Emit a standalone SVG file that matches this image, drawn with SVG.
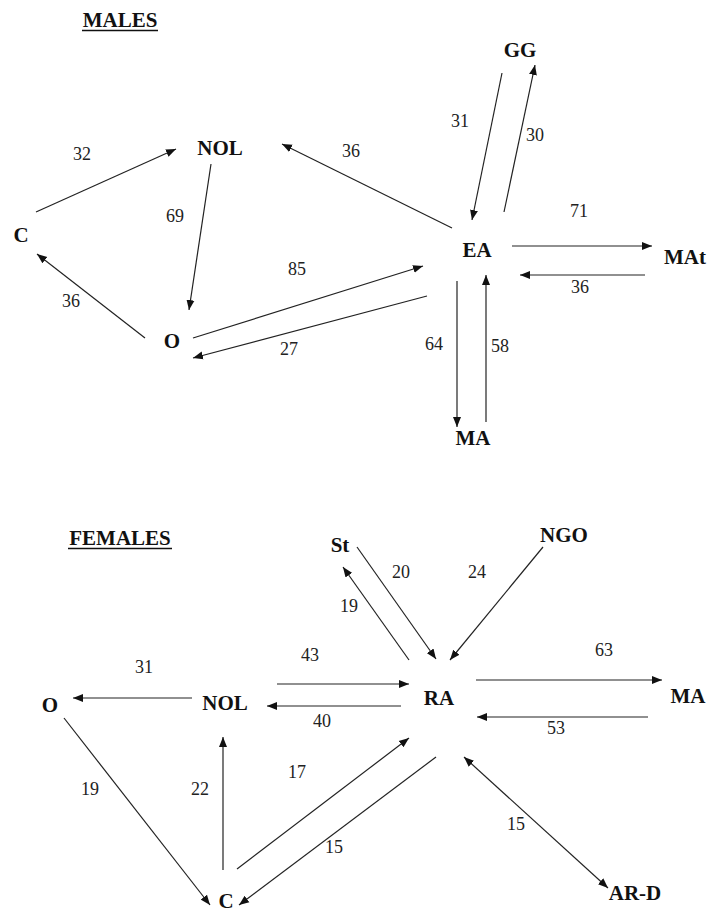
<svg xmlns="http://www.w3.org/2000/svg" width="707" height="912" viewBox="0 0 707 912">
<style>
.n{font-family:"Liberation Serif","Times New Roman",serif;font-weight:bold;font-size:21px;fill:#111;text-anchor:middle}
.h{font-family:"Liberation Serif","Times New Roman",serif;font-weight:bold;font-size:21px;fill:#111;text-anchor:middle}
.l{font-family:"Liberation Serif","Times New Roman",serif;font-size:18px;fill:#222;text-anchor:middle}
.e{stroke:#222;stroke-width:1.2;fill:none;marker-end:url(#a)}
.d{stroke:#222;stroke-width:1.2;fill:none;marker-end:url(#a);marker-start:url(#a)}
.u{stroke:#111;stroke-width:1.5}
</style>
<defs>
<marker id="a" markerUnits="userSpaceOnUse" markerWidth="11" markerHeight="9" refX="10" refY="4" orient="auto-start-reverse" viewBox="0 0 11 8">
<path d="M0,0 L10,4 L0,8 z" fill="#111"/>
</marker>
</defs>
<rect width="707" height="912" fill="#fff"/>
<g id="males-title"><text class="h" x="120" y="27">MALES</text><line class="u" x1="82" y1="30.5" x2="158" y2="30.5"/></g>
<g id="m-NOL"><text class="n" x="220" y="155">NOL</text></g>
<g id="m-C"><text class="n" x="21" y="242">C</text></g>
<g id="m-O"><text class="n" x="172" y="348">O</text></g>
<g id="m-EA"><text class="n" x="477" y="257">EA</text></g>
<g id="m-GG"><text class="n" x="520" y="57">GG</text></g>
<g id="m-MAt"><text class="n" x="685" y="264">MAt</text></g>
<g id="m-MA"><text class="n" x="473" y="445">MA</text></g>
<g id="males-connectors">
<line class="e" x1="36" y1="212" x2="176" y2="149"/>
<line class="e" x1="211" y1="164" x2="189" y2="310"/>
<line class="e" x1="145" y1="338" x2="37" y2="254"/>
<line class="e" x1="193" y1="338" x2="423" y2="266"/>
<line class="e" x1="427" y1="296" x2="193" y2="358"/>
<line class="e" x1="452" y1="228" x2="282" y2="144"/>
<line class="e" x1="502" y1="73" x2="472" y2="220"/>
<line class="e" x1="504" y1="212" x2="535" y2="65"/>
<line class="e" x1="512" y1="246" x2="652" y2="246"/>
<line class="e" x1="645" y1="275" x2="520" y2="275"/>
<line class="e" x1="457" y1="281" x2="457" y2="427"/>
<line class="e" x1="486" y1="422" x2="486" y2="275"/>
<text class="l" x="82" y="160">32</text>
<text class="l" x="175" y="222">69</text>
<text class="l" x="71" y="307">36</text>
<text class="l" x="297" y="275">85</text>
<text class="l" x="289" y="355">27</text>
<text class="l" x="351" y="157">36</text>
<text class="l" x="460" y="127">31</text>
<text class="l" x="535" y="141">30</text>
<text class="l" x="579" y="217">71</text>
<text class="l" x="580" y="293">36</text>
<text class="l" x="434" y="350">64</text>
<text class="l" x="500" y="352">58</text>
</g>
<g id="females-title"><text class="h" x="120" y="545">FEMALES</text><line class="u" x1="68" y1="548.5" x2="172" y2="548.5"/></g>
<g id="f-St"><text class="n" x="340" y="552">St</text></g>
<g id="f-NGO"><text class="n" x="564" y="542">NGO</text></g>
<g id="f-O"><text class="n" x="50" y="712">O</text></g>
<g id="f-NOL"><text class="n" x="225" y="710">NOL</text></g>
<g id="f-RA"><text class="n" x="439" y="705">RA</text></g>
<g id="f-MA"><text class="n" x="688" y="703">MA</text></g>
<g id="f-C"><text class="n" x="226" y="908">C</text></g>
<g id="f-ARD"><text class="n" x="635" y="900">AR-D</text></g>
<g id="females-connectors">
<line class="e" x1="192" y1="698" x2="73" y2="698"/>
<line class="e" x1="277" y1="684" x2="409" y2="684"/>
<line class="e" x1="401" y1="706" x2="267" y2="706"/>
<line class="e" x1="64" y1="718" x2="210" y2="905"/>
<line class="e" x1="223" y1="870" x2="223" y2="737"/>
<line class="e" x1="237" y1="869" x2="409" y2="738"/>
<line class="e" x1="436" y1="757" x2="239" y2="905"/>
<line class="e" x1="357" y1="547" x2="436" y2="659"/>
<line class="e" x1="409" y1="660" x2="343" y2="567"/>
<line class="e" x1="543" y1="547" x2="450" y2="660"/>
<line class="e" x1="476" y1="680" x2="662" y2="680"/>
<line class="e" x1="648" y1="717" x2="477" y2="717"/>
<line class="d" x1="464" y1="757" x2="608" y2="888"/>
<text class="l" x="144" y="673">31</text>
<text class="l" x="310" y="661">43</text>
<text class="l" x="322" y="727">40</text>
<text class="l" x="90" y="795">19</text>
<text class="l" x="200" y="795">22</text>
<text class="l" x="297" y="778">17</text>
<text class="l" x="334" y="853">15</text>
<text class="l" x="401" y="578">20</text>
<text class="l" x="349" y="612">19</text>
<text class="l" x="477" y="578">24</text>
<text class="l" x="604" y="656">63</text>
<text class="l" x="556" y="734">53</text>
<text class="l" x="516" y="830">15</text>
</g>
</svg>
